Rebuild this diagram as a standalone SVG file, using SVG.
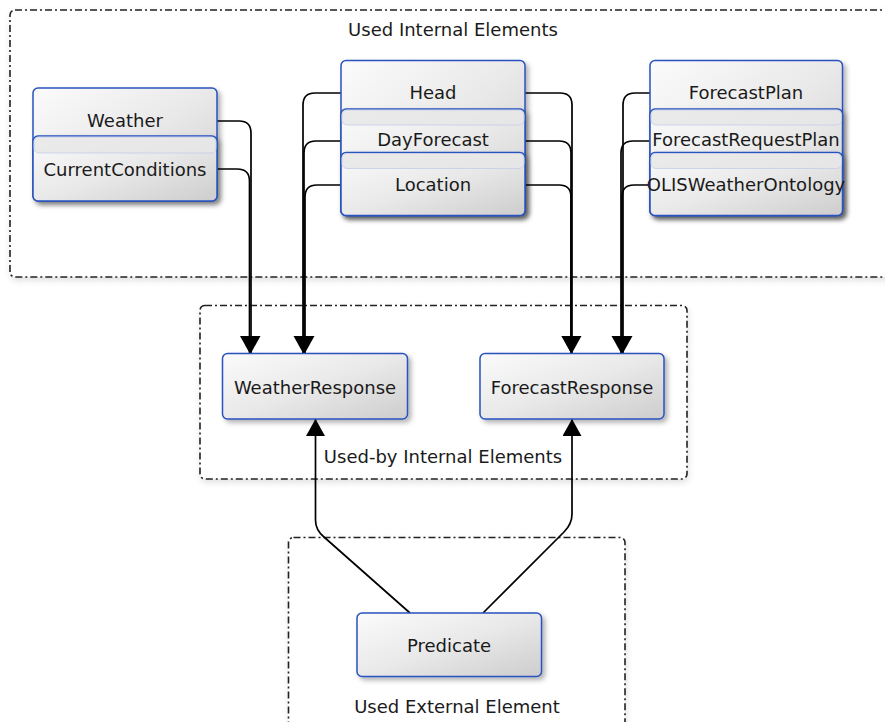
<svg xmlns="http://www.w3.org/2000/svg" width="885" height="722" viewBox="0 0 885 722">
  <defs>
    <linearGradient id="nodeFill" x1="0" y1="0" x2="1" y2="1">
      <stop offset="0" stop-color="#fbfbfb"/>
      <stop offset="0.5" stop-color="#e9e9e9"/>
      <stop offset="1" stop-color="#cdcdcd"/>
    </linearGradient>
    <filter id="nodeShadow" x="-10%" y="-10%" width="125%" height="130%">
      <feDropShadow dx="3" dy="3" stdDeviation="2.5" flood-color="#000" flood-opacity="0.3"/>
    </filter>
    <filter id="groupShadow" x="-5%" y="-5%" width="110%" height="115%">
      <feDropShadow dx="1" dy="3" stdDeviation="3" flood-color="#000" flood-opacity="0.12"/>
    </filter>
    <marker id="arrow" markerUnits="userSpaceOnUse" markerWidth="20" markerHeight="20" refX="17" refY="9.5" orient="auto">
      <path d="M0,0 L17,9.5 L0,19 z" fill="#000"/>
    </marker>
  </defs>
  <style>
    .group { fill: #fff; stroke: #222; stroke-width: 1.6; stroke-dasharray: 7 3 2 3; filter: url(#groupShadow); }
    .box { fill: url(#nodeFill); stroke: #2a52be; stroke-width: 1.5; filter: url(#nodeShadow); }
    .band { fill: #e6e6e6; fill-opacity: 0.8; stroke: #c5cde6; stroke-width: 0.8; }
    .conn { fill: none; stroke: #000; stroke-width: 1.7; }
    text { font-family: "DejaVu Sans", "Noto Sans", sans-serif; font-size: 18px; fill: #1a1a1a; text-anchor: middle; }
  </style>

  <rect width="885" height="722" fill="#fff"/>

  <!-- grouping frames -->
  <g id="frames">
    <rect class="group" x="10" y="10" width="890" height="267" rx="5"/>
    <rect class="group" x="200" y="305.5" width="487" height="173.5" rx="5"/>
    <rect class="group" x="288.5" y="537.5" width="336.5" height="200" rx="5"/>
    <text x="453" y="36">Used Internal Elements</text>
    <text x="443" y="463">Used-by Internal Elements</text>
    <text x="457" y="713">Used External Element</text>
  </g>

  <!-- connectors -->
  <g id="connectors">
    <path class="conn" d="M217,121 H239 Q251,121 251,133 V353" marker-end="url(#arrow)"/>
    <path class="conn" d="M217,169 H237 Q249.5,169 249.5,181 V353" marker-end="url(#arrow)"/>

    <path class="conn" d="M341,93 H315 Q303,93 303,105 V353" marker-end="url(#arrow)"/>
    <path class="conn" d="M341,141 H316 Q304,141 304,153 V353" marker-end="url(#arrow)"/>
    <path class="conn" d="M341,185 H317 Q305,185 305,197 V353" marker-end="url(#arrow)"/>

    <path class="conn" d="M525,93 H560 Q572,93 572,105 V353" marker-end="url(#arrow)"/>
    <path class="conn" d="M525,141 H559 Q571,141 571,153 V353" marker-end="url(#arrow)"/>
    <path class="conn" d="M525,185 H559 Q571,185 571,197 V353" marker-end="url(#arrow)"/>

    <path class="conn" d="M650,93 H635 Q623,93 623,105 V353" marker-end="url(#arrow)"/>
    <path class="conn" d="M650,141 H633 Q621,141 621,153 V353" marker-end="url(#arrow)"/>
    <path class="conn" d="M648,185 H634 Q622,185 622,197 V353" marker-end="url(#arrow)"/>

    <path class="conn" d="M410,613 L324,537 Q315.5,530 315.5,520 V419" marker-end="url(#arrow)"/>
    <path class="conn" d="M483,613 L564,532 Q572,524 572,514 V419" marker-end="url(#arrow)"/>
  </g>

  <!-- Weather stack -->
  <g id="weather">
    <rect class="box" x="33" y="88" width="184" height="113" rx="5"/>
    <text x="125" y="127">Weather</text>
  </g>
  <g id="current-conditions">
    <rect class="box" x="33" y="136" width="184" height="65" rx="5"/>
    <rect class="band" x="34" y="137" width="182" height="16" rx="5"/>
    <text x="125" y="176">CurrentConditions</text>
  </g>

  <!-- Head stack -->
  <g id="head">
    <rect class="box" x="341" y="60.5" width="184" height="155" rx="5"/>
    <text x="433" y="99">Head</text>
  </g>
  <g id="day-forecast">
    <rect class="box" x="341" y="109" width="184" height="106.5" rx="5"/>
    <rect class="band" x="342" y="110" width="182" height="15" rx="5"/>
    <text x="433" y="146">DayForecast</text>
  </g>
  <g id="location">
    <rect class="box" x="341" y="152.5" width="184" height="63" rx="5"/>
    <rect class="band" x="342" y="153.5" width="182" height="15" rx="5"/>
    <text x="433" y="191">Location</text>
  </g>

  <!-- ForecastPlan stack -->
  <g id="forecast-plan">
    <rect class="box" x="650" y="60.5" width="192.5" height="155" rx="5"/>
    <text x="746" y="99">ForecastPlan</text>
  </g>
  <g id="forecast-request-plan">
    <rect class="box" x="650" y="109" width="192.5" height="106.5" rx="5"/>
    <rect class="band" x="651" y="110" width="190.5" height="15" rx="5"/>
    <text x="746" y="146">ForecastRequestPlan</text>
  </g>
  <g id="olis-weather-ontology">
    <rect class="box" x="650" y="152.5" width="192.5" height="63" rx="5"/>
    <rect class="band" x="651" y="153.5" width="190.5" height="15" rx="5"/>
    <text x="746" y="191">OLISWeatherOntology</text>
  </g>

  <!-- used-by elements -->
  <g id="weather-response">
    <rect class="box" x="222.5" y="353.5" width="185" height="65.5" rx="5"/>
    <text x="315" y="394">WeatherResponse</text>
  </g>
  <g id="forecast-response">
    <rect class="box" x="480" y="353.5" width="184" height="65.5" rx="5"/>
    <text x="572" y="394">ForecastResponse</text>
  </g>

  <!-- external element -->
  <g id="predicate">
    <rect class="box" x="357" y="613" width="184.5" height="63.5" rx="5"/>
    <text x="449" y="652">Predicate</text>
  </g>
</svg>
